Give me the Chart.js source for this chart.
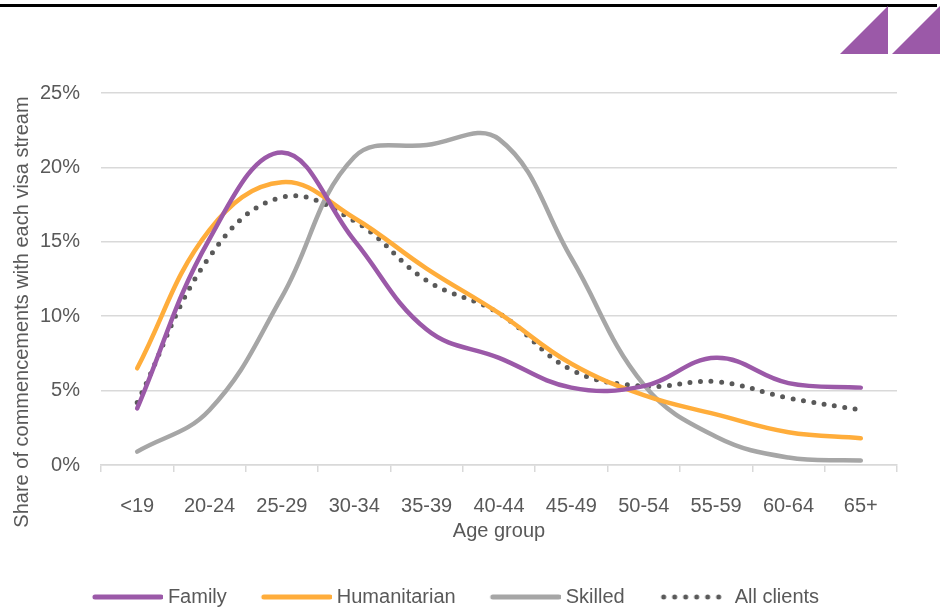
<!DOCTYPE html>
<html>
<head>
<meta charset="utf-8">
<script src="https://cdn.jsdelivr.net/npm/chart.js@4/dist/chart.umd.min.js"></script>
<style>
  html, body { margin: 0; padding: 0; background: #fff; overflow: hidden; }
  #wrap { position: relative; width: 940px; height: 609px; overflow: hidden; }
  #topline { position: absolute; left: 0; top: 4px; width: 937px; height: 3px; background: #000; }
  #logo { position: absolute; left: 838px; top: 6px; }
  #chart { position: absolute; left: 0; top: 0; }
</style>
</head>
<body>
<div id="wrap">
  <canvas id="chart" width="940" height="617"></canvas>
  <div id="topline"></div>
  <svg id="logo" width="102" height="50">
    <polygon points="2,48 50,0 50,48" fill="#9B59A8" />
    <polygon points="54,48 102,0 102,48" fill="#9B59A8" />
  </svg>
</div>
<script>
// Age groups on the x axis
const ageGroups = ['<19', '20-24', '25-29', '30-34', '35-39', '40-44', '45-49', '50-54', '55-59', '60-64', '65+'];

// Share of commencements (%)
const familyShare = [3.8, 15.2, 21.0, 15.1, 9.1, 7.2, 5.2, 5.3, 7.2, 5.5, 5.2];
const humanitarianShare = [6.5, 15.8, 19.0, 16.6, 13.2, 10.2, 6.8, 4.7, 3.4, 2.2, 1.8];
const skilledShare = [0.9, 3.7, 11.3, 20.7, 21.5, 21.9, 13.9, 5.4, 1.9, 0.5, 0.3];
const allClientsShare = [4.2, 14.0, 18.0, 16.4, 12.4, 10.2, 6.4, 5.3, 5.6, 4.5, 3.7];

// Y axis ticks
const yTicks = [0, 5, 10, 15, 20, 25];
const yTitle = 'Share of commencements with each visa stream';

const FONT = "'Liberation Sans', Arial, sans-serif";
const FONT_SIZE = 20;
const TEXT = '#595959';
const GRID = '#D9D9D9';

// small canvas used as the legend symbol (a short line, solid or dotted)
function legendSwatch(color, dotted) {
  const c = document.createElement('canvas');
  c.width = 80;
  c.height = 10;
  const g = c.getContext('2d');
  g.strokeStyle = color;
  g.lineWidth = 5;
  g.lineCap = 'round';
  if (dotted) g.setLineDash([0, 11]);
  g.beginPath();
  g.moveTo(dotted ? 14 : 12, 5);
  g.lineTo(dotted ? 76 : 78, 5);
  g.stroke();
  return c;
}

function lineSet(label, data, color, dotted) {
  return {
    label: label,
    data: data,
    borderColor: color,
    backgroundColor: color,
    borderWidth: dotted ? 5 : 4.5,
    borderDash: dotted ? [0, 10.5] : [],
    tension: 0.4,
    pointRadius: 0,
    pointHoverRadius: 0,
    pointStyle: legendSwatch(color, dotted),
    borderCapStyle: 'round',
    fill: false
  };
}

// y axis title, placed like the original (a bit lower than the axis centre)
const yTitlePlugin = {
  id: 'yTitle',
  afterDraw(chart) {
    const c = chart.ctx;
    c.save();
    c.translate(22, 312);
    c.rotate(-Math.PI / 2);
    c.font = `${FONT_SIZE}px ${FONT}`;
    c.fillStyle = TEXT;
    c.textAlign = 'center';
    c.textBaseline = 'middle';
    c.fillText(yTitle, 0, 0);
    c.restore();
  }
};

const ctx = document.getElementById('chart');

new Chart(ctx, {
  type: 'line',
  data: {
    labels: ageGroups,
    datasets: [
      lineSet('Family', familyShare, '#9B59A8', false),
      lineSet('Humanitarian', humanitarianShare, '#FFAD3B', false),
      lineSet('Skilled', skilledShare, '#A6A6A6', false),
      lineSet('All clients', allClientsShare, '#595959', true)
    ]
  },
  plugins: [yTitlePlugin],
  options: {
    responsive: false,
    animation: false,
    layout: {
      padding: { top: 93, right: 43, left: 10, bottom: 0 }
    },
    plugins: {
      tooltip: { enabled: false },
      legend: {
        position: 'bottom',
        labels: {
          usePointStyle: true,
          pointStyleWidth: 70,
          boxHeight: 8,
          padding: 30,
          color: TEXT,
          font: { family: FONT, size: FONT_SIZE }
        }
      }
    },
    scales: {
      x: {
        offset: true,
        grid: {
          offset: true,
          drawOnChartArea: false,
          color: GRID,
          lineWidth: 1.5,
          tickLength: 7
        },
        border: { color: GRID, width: 1.5 },
        ticks: {
          color: TEXT,
          padding: 22,
          maxRotation: 0,
          font: { family: FONT, size: FONT_SIZE }
        },
        title: {
          display: true,
          text: 'Age group',
          color: TEXT,
          padding: { top: 2, bottom: 14 },
          font: { family: FONT, size: FONT_SIZE }
        },
        afterFit: (scale) => { scale.height = 92; }
      },
      y: {
        min: 0,
        max: 25,
        afterBuildTicks: (scale) => { scale.ticks = yTicks.map(v => ({ value: v })); },
        grid: {
          color: GRID,
          lineWidth: 1.5,
          drawTicks: false
        },
        border: { display: false },
        ticks: {
          color: TEXT,
          padding: 21,
          font: { family: FONT, size: FONT_SIZE },
          callback: (v) => v + '%'
        },
        afterFit: (scale) => { scale.width = 91; }
      }
    }
  }
});
</script>
</body>
</html>
